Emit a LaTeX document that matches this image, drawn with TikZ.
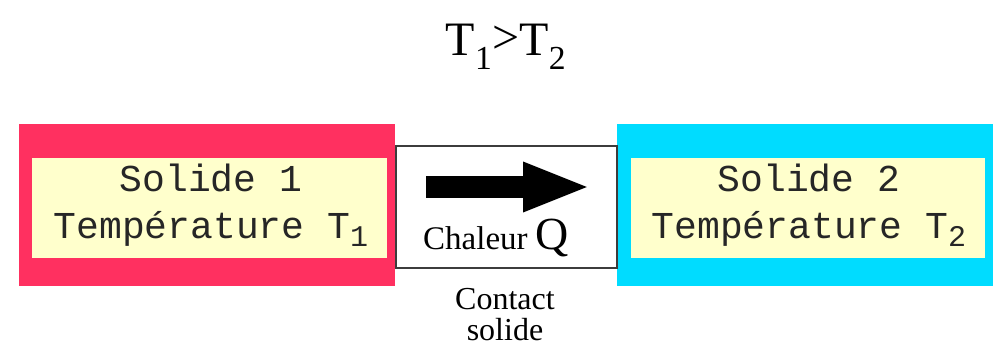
\documentclass[tikz,border=0pt]{standalone}
\usepackage{fontspec}
\setmainfont{Liberation Serif}
\newfontfamily\monof{Liberation Mono}
\usetikzlibrary{arrows.meta}
\definecolor{hotred}{RGB}{255,48,96}
\definecolor{coldblue}{RGB}{0,220,255}
\definecolor{paleyel}{RGB}{255,255,204}
\definecolor{edgegray}{RGB}{60,60,60}
\tikzset{
  outerbox/.style={draw=none,fill=#1},
  innerbox/.style={draw=none,fill=paleyel},
  monotext/.style={font=\monof\fontsize{38}{47}\selectfont,align=center,inner sep=0pt,text=black!85},
  serift/.style={font=\fontsize{33}{36}\selectfont,inner sep=0pt,align=center},
}
\begin{document}
\begin{tikzpicture}[x=1pt,y=-1pt]
\useasboundingbox[fill=white] (0,0) rectangle (996,350);
% left solid
\path[outerbox=hotred] (19,124) rectangle (395,286);
\path[innerbox] (32,158) rectangle (387,258);
\node[monotext] (s1) at (211,205) {Solide 1\\Température T\raisebox{-0.4ex}{\fontsize{30}{30}\selectfont 1}};
% right solid
\path[outerbox=coldblue] (617,124) rectangle (993,286);
\path[innerbox] (631,158) rectangle (985,258);
\node[monotext] (s2) at (809,205) {Solide 2\\Température T\raisebox{-0.4ex}{\fontsize{30}{30}\selectfont 2}};
% contact box
\draw[edgegray,line width=1.2pt,fill=white] (396,146) rectangle (617,268);
\coordinate (a0) at (426,187);
\coordinate (a1) at (591,187);
\draw[line width=22pt,-{Triangle[length=68pt,width=45pt]}] (a0) -- (a1);
\node[serift,anchor=base west] (chal) at (423,249) {Chaleur {\fontsize{46}{46}\selectfont Q}};
\node[serift,font=\fontsize{32}{31}\selectfont] (cont) at (505,315) {Contact\\solide};
% title
\node[inner sep=0pt,font=\fontsize{48}{48}\selectfont,anchor=base] (title) at (506,56) {T\textsubscript{1}\raisebox{0.1ex}{>}T\textsubscript{2}};
\end{tikzpicture}
\end{document}
